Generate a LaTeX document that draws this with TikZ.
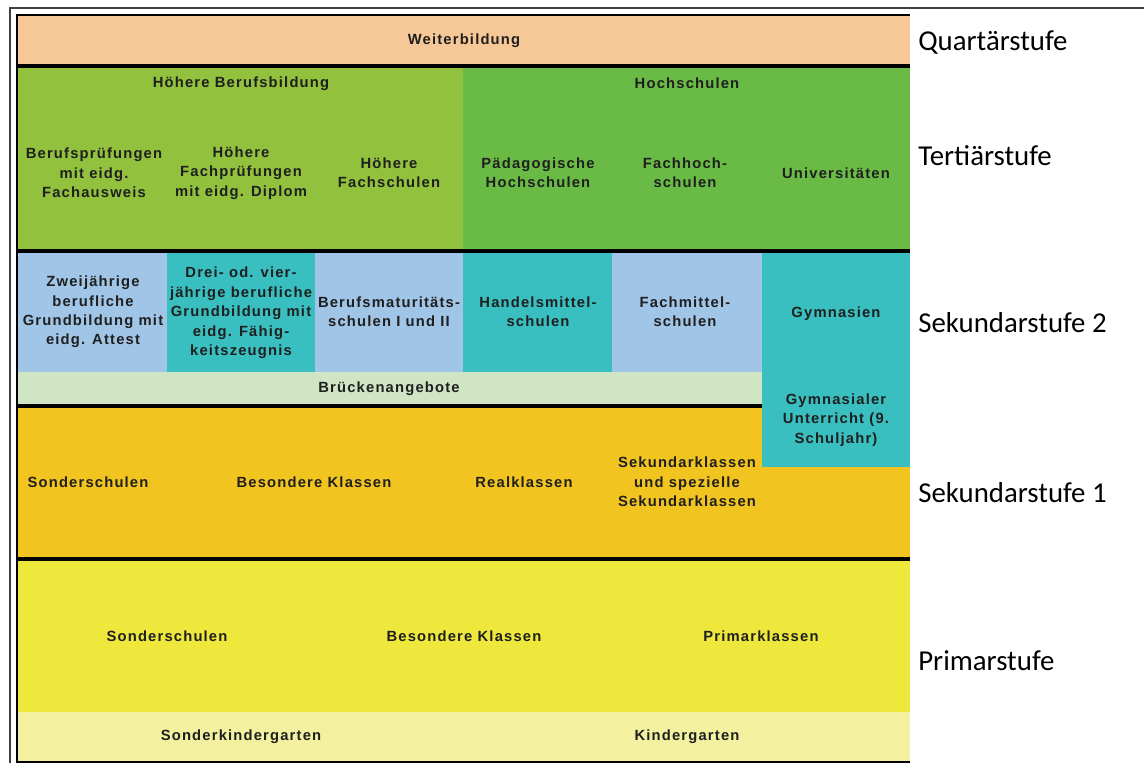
\documentclass[tikz,border=0pt]{standalone}
\usepackage{fontspec}
\setmainfont{Carlito}
\newfontfamily\boxfont{Liberation Sans}[LetterSpace=8]
\usepackage{tikz}
\definecolor{weiter}{HTML}{F7C897}
\definecolor{hbbgreen}{HTML}{92C13D}
\definecolor{hsgreen}{HTML}{6ABB45}
\definecolor{hellblau}{HTML}{A0C5E7}
\definecolor{tuerkis}{HTML}{3ABFC0}
\definecolor{bruecke}{HTML}{CFE5C3}
\definecolor{sekgelb}{HTML}{F2C420}
\definecolor{primgelb}{HTML}{EEE83C}
\definecolor{kigagelb}{HTML}{F3F0A0}

\begin{document}
\begin{tikzpicture}[x=0.025cm,y=-0.025cm,
  lbl/.style={font=\boxfont\bfseries\fontsize{10.5}{13.8}\selectfont,
    text=black!88, align=center, inner sep=0pt},
  stufe/.style={font=\fontsize{20.5}{24}\selectfont, anchor=base west, inner sep=0pt},
  bar/.style={line width=2.6pt}]
\useasboundingbox (0,0) rectangle (1144,763);
%
\draw[line width=1.2pt, black!75] (10,763) -- (10,8) -- (1144,8);
%
\fill[weiter] (17,15) rectangle (910,66);
\fill[hbbgreen] (17,66) rectangle (463,251);
\fill[hsgreen] (463,66) rectangle (910,251);
\fill[hellblau] (17,251) rectangle (167,372);
\fill[tuerkis] (167,251) rectangle (315,372);
\fill[hellblau] (315,251) rectangle (463,372);
\fill[tuerkis] (463,251) rectangle (612,372);
\fill[hellblau] (612,251) rectangle (762,372);
\fill[bruecke] (17,372) rectangle (762,406);
\fill[sekgelb] (17,406) rectangle (910,559);
\fill[tuerkis] (762,251) rectangle (910,467);
\fill[primgelb] (17,559) rectangle (910,712);
\fill[kigagelb] (17,712) rectangle (910,762);
%
\draw[bar] (17,66) -- (910,66);
\draw[bar] (17,251) -- (910,251);
\draw[bar] (17,406) -- (762,406);
\draw[bar] (17,559) -- (910,559);
\draw[line width=1.6pt] (910,762) -- (17,762) -- (17,15) -- (910,15);
%
\node[lbl] (weiter) at (464,41) {Weiterbildung};
\node[lbl] (hbb) at (241,84) {Höhere Berufsbildung};
\node[lbl] (hs) at (687,83) {Hochschulen};
\node[lbl] (bp) at (94,173) {Berufsprüfungen\\mit eidg.\\Fachausweis};
\node[lbl] (hfp) at (241,173) {Höhere\\Fachprüfungen\\mit eidg. Diplom};
\node[lbl] (hfs) at (389,173) {Höhere\\Fachschulen};
\node[lbl] (ph) at (538,173) {Pädagogische\\Hochschulen};
\node[lbl] (fh) at (685,173) {Fachhoch-\\schulen};
\node[lbl] (uni) at (836,173) {Universitäten};
%
\node[lbl] (zwei) at (93,312) {Zweijährige\\berufliche\\Grundbildung mit\\eidg. Attest};
\node[lbl] (drei) at (241,313) {Drei- od. vier-\\jährige berufliche\\Grundbildung mit\\eidg. Fähig-\\keitszeugnis};
\node[lbl] (bms) at (389,312) {Berufsmaturitäts-\\schulen I und II};
\node[lbl] (hms) at (538,312) {Handelsmittel-\\schulen};
\node[lbl] (fms) at (685,312) {Fachmittel-\\schulen};
\node[lbl] (gym) at (836,314) {Gymnasien};
\node[lbl] (brueck) at (389,389) {Brückenangebote};
\node[lbl] (gymu) at (836,420) {Gymnasialer\\Unterricht (9.\\Schuljahr)};
%
\node[lbl] (sonder1) at (88,482) {Sonderschulen};
\node[lbl] (bes1) at (314,482) {Besondere Klassen};
\node[lbl] (real) at (524,482) {Realklassen};
\node[lbl] (sek) at (687,482) {Sekundarklassen\\und spezielle\\Sekundarklassen};
%
\node[lbl] (sonder0) at (167,636) {Sonderschulen};
\node[lbl] (bes0) at (464,636) {Besondere Klassen};
\node[lbl] (prim) at (761,636) {Primarklassen};
\node[lbl] (skg) at (241,737) {Sonderkindergarten};
\node[lbl] (kg) at (687,737) {Kindergarten};
%
\node[stufe] (quart) at (918,50) {Quartärstufe};
\node[stufe] (tert) at (918,165) {Tertiärstufe};
\node[stufe] (sek2) at (918,332) {Sekundarstufe 2};
\node[stufe] (sek1) at (918,502) {Sekundarstufe 1};
\node[stufe] (primar) at (918,670) {Primarstufe};
%
\end{tikzpicture}
\end{document}
